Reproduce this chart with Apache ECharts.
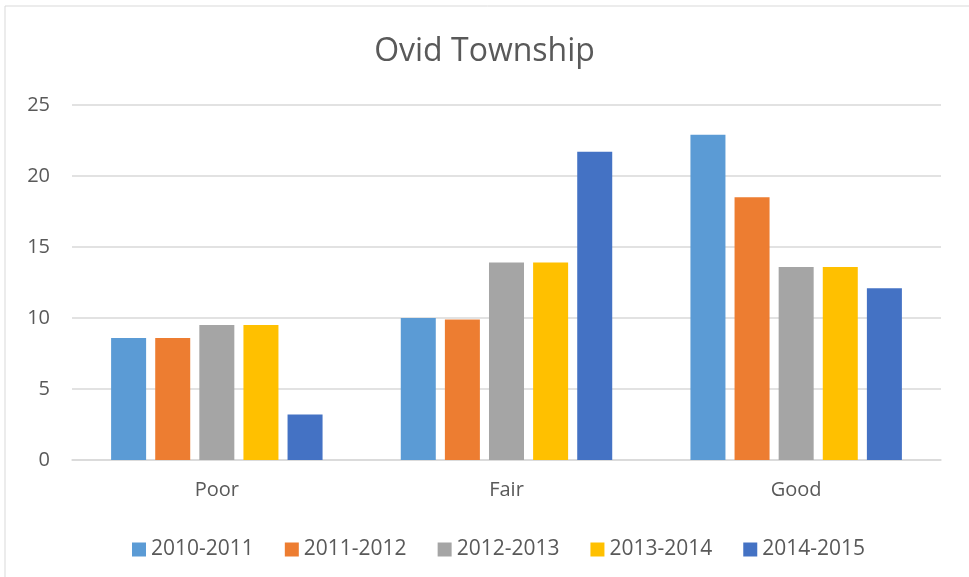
<!DOCTYPE html>
<html>
<head>
<meta charset="utf-8">
<title>Ovid Township</title>
<script src="https://cdn.jsdelivr.net/npm/echarts@6/dist/echarts.min.js"></script>
<style>
  html, body { margin: 0; padding: 0; background: #fff; }
  #chart { width: 969px; height: 577px; }
</style>
</head>
<body>
<div id="chart"></div>
<script>
// categories and series values
var categories = ["Poor", "Fair", "Good"];
var seriesNames = ["2010-2011", "2011-2012", "2012-2013", "2013-2014", "2014-2015"];
var v2010 = [8.6, 10.0, 22.9];
var v2011 = [8.6, 9.9, 18.5];
var v2012 = [9.5, 13.9, 13.6];
var v2013 = [9.5, 13.9, 13.6];
var v2014 = [3.2, 21.7, 12.1];
var colors = ["#5b9bd5", "#ed7d31", "#a5a5a5", "#ffc000", "#4472c4"];

var allValues = [v2010, v2011, v2012, v2013, v2014];
var font = "Open Sans";

var chart = echarts.init(document.getElementById("chart"));

var series = seriesNames.map(function (name, i) {
  return {
    name: name,
    type: "bar",
    data: allValues[i],
    itemStyle: { color: colors[i] },
    barGap: "26%",
    barCategoryGap: "27%"
  };
});

var option = {
  animation: false,
  color: colors,
  graphic: [
    {
      type: "rect",
      shape: { x: 5, y: 6, width: 968, height: 575 },
      style: { fill: "none", stroke: "#d9d9d9", lineWidth: 1 },
      silent: true
    }
  ],
  title: {
    text: "Ovid Township",
    left: "center",
    top: 31,
    textStyle: { fontFamily: font, fontSize: 32, fontWeight: "normal", color: "#595959" }
  },
  legend: {
    data: seriesNames,
    top: 534,
    left: 127,
    itemWidth: 14,
    itemHeight: 14,
    itemGap: 31,
    icon: "rect",
    textStyle: { fontFamily: font, fontSize: 21, color: "#595959" }
  },
  grid: {
    left: 72,
    right: 28,
    top: 105,
    bottom: 117,
    containLabel: false
  },
  xAxis: {
    type: "category",
    data: categories,
    axisTick: { show: false },
    axisLine: { lineStyle: { color: "#d9d9d9", width: 1.5 } },
    axisLabel: { fontFamily: font, fontSize: 20, color: "#595959", margin: 20 }
  },
  yAxis: {
    type: "value",
    min: 0,
    max: 25,
    interval: 5,
    axisLine: { show: false },
    axisTick: { show: false },
    splitLine: { lineStyle: { color: "#d9d9d9", width: 1.5 } },
    axisLabel: { fontFamily: font, fontSize: 20, color: "#595959", margin: 22 }
  },
  series: series
};

chart.setOption(option);
</script>
</body>
</html>
